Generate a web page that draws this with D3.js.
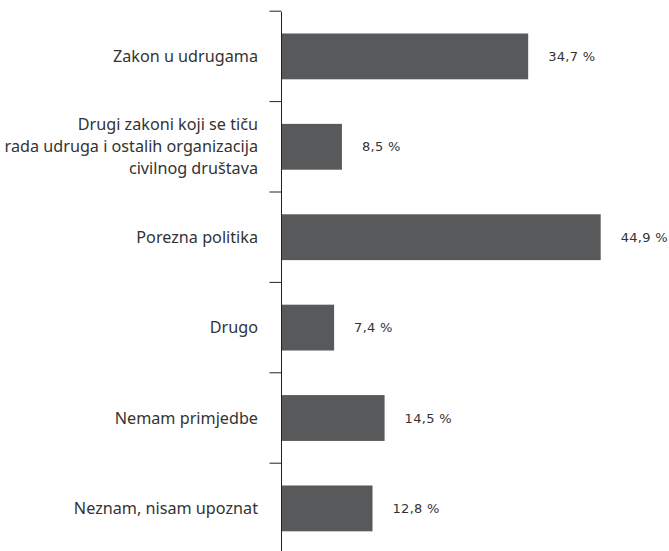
<!DOCTYPE html>
<html>
<head>
<meta charset="utf-8">
<script src="https://cdn.jsdelivr.net/npm/d3@7"></script>
<style>
  html, body { margin: 0; padding: 0; background: #fff; }
  svg { display: block; }
</style>
</head>
<body>
<svg id="chart" width="669" height="551"></svg>
<script>
// Categories (each entry is a list of label lines) and percentages
const categories = [
  ["Zakon u udrugama"],
  ["Drugi zakoni koji se tiču", "rada udruga i ostalih organizacija", "civilnog društava"],
  ["Porezna politika"],
  ["Drugo"],
  ["Nemam primjedbe"],
  ["Neznam, nisam upoznat"]
];
const values = [34.7, 8.5, 44.9, 7.4, 14.5, 12.8];
const valueLabels = ["34,7 %", "8,5 %", "44,9 %", "7,4 %", "14,5 %", "12,8 %"];

const svg = d3.select("#chart");
const axisX = 281.5;
const plotTop = 11.2;
const step = 90.4;

const keys = categories.map((c, i) => i);
const y = d3.scaleBand()
  .domain(keys)
  .range([plotTop, plotTop + step * keys.length])
  .paddingInner(0.493)
  .paddingOuter(0.2465);

const x = d3.scaleLinear().domain([0, 44.9]).range([axisX, 600.7]);

// bars
svg.append("g").selectAll("rect")
  .data(values)
  .join("rect")
  .attr("x", x(0))
  .attr("y", (d, i) => y(i))
  .attr("width", d => x(d) - x(0))
  .attr("height", y.bandwidth())
  .attr("fill", "#58595b");

// value labels
svg.append("g").selectAll("text")
  .data(values)
  .join("text")
  .attr("x", d => x(d) + 20)
  .attr("y", (d, i) => y(i) + y.bandwidth() / 2)
  .attr("dy", "0.35em")
  .attr("font-family", "DejaVu Sans, Verdana, sans-serif")
  .attr("font-size", 13)
  .attr("letter-spacing", 0.3)
  .attr("fill", "#333")
  .text((d, i) => valueLabels[i]);

// vertical axis line and band ticks
const axisG = svg.append("g");
axisG.append("line")
  .attr("x1", axisX).attr("x2", axisX)
  .attr("y1", 12).attr("y2", 551)
  .attr("stroke", "#222").attr("stroke-width", 1);

const boundaries = d3.range(keys.length + 1).map(k => plotTop + k * step).filter(v => v < 551);
axisG.selectAll("line.tick")
  .data(boundaries)
  .join("line")
  .attr("class", "tick")
  .attr("x1", axisX - 12).attr("x2", axisX)
  .attr("y1", d => d).attr("y2", d => d)
  .attr("stroke", "#222").attr("stroke-width", 1);

// category labels
const lineH = 22;
const labelG = svg.append("g")
  .attr("font-family", "Noto Sans, Open Sans, sans-serif")
  .attr("font-size", 16.2)
  .attr("fill", "#333")
  .attr("text-anchor", "end");

categories.forEach((lines, i) => {
  const cy = y(i) + y.bandwidth() / 2;
  const t = labelG.append("text")
    .attr("x", 258)
    .attr("y", cy - (lines.length - 1) * lineH / 2);
  lines.forEach((ln, j) => {
    t.append("tspan")
      .attr("x", 258)
      .attr("dy", j === 0 ? "0.35em" : lineH)
      .text(ln);
  });
});
</script>
</body>
</html>
